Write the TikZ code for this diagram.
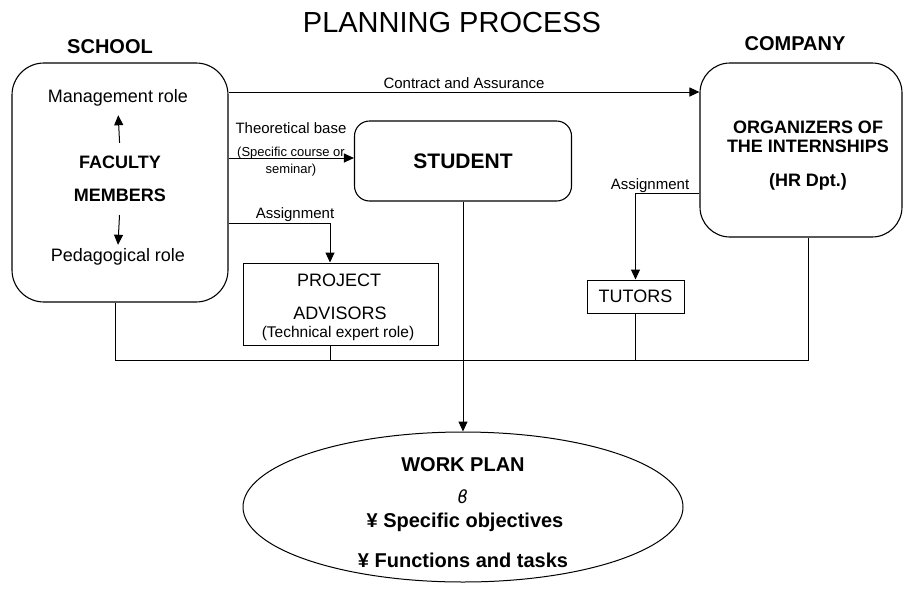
\documentclass[tikz,border=0pt]{standalone}
\usepackage{fontspec}
\setmainfont{Liberation Sans}
\newfontfamily\symfont{DejaVu Sans}
\usetikzlibrary{positioning,shapes.geometric,arrows.meta}
\newcommand{\fsz}[1]{\fontsize{#1}{#1}\selectfont}

\begin{document}
\begin{tikzpicture}[x=1pt,y=-1pt,line width=1pt,>={Triangle[length=10pt,width=9pt]},
    lbl/.style={inner sep=1pt},
    roundbox/.style={draw,line width=1.1pt,rounded corners=#1}]
    \useasboundingbox (0,0) rectangle (905,592);

    % titles
    \node (title) at (452,23) {\fsz{29}PLANNING PROCESS};
    \node (schoollbl) at (110,47) {\fsz{20}\bfseries SCHOOL};
    \node (companylbl) at (795,44) {\fsz{20}\bfseries COMPANY};

    % boxes
    \node[roundbox=32pt,minimum width=216pt,minimum height=239pt] (school) at (120,182.5) {};
    \node[roundbox=30pt,minimum width=202pt,minimum height=174pt] (company) at (801,150) {};
    \node[roundbox=15pt,minimum width=217pt,minimum height=80pt] (student) at (463,161) {\fsz{21}\bfseries STUDENT};
    \node[draw,minimum width=195pt,minimum height=82pt] (project) at (340.5,304) {};
    \node[draw,minimum width=97pt,minimum height=33pt] (tutors) at (635.5,296.5) {\fsz{18}TUTORS};
    \node[draw,ellipse,minimum width=440pt,minimum height=150pt] (plan) at (463,507) {};

    % school text
    \node (mgmt) at (118,98) {\fsz{18}Management role};
    \node (faculty) at (120,162) {\fsz{18}\bfseries FACULTY};
    \node (members) at (120,195) {\fsz{18}\bfseries MEMBERS};
    \node (pedag) at (118,257) {\fsz{18}Pedagogical role};
    \draw[->,shorten <=9pt,shorten >=5pt] (faculty.north) -- (mgmt.south);
    \draw[->,shorten <=10pt] (members.south) -- (pedag.north);

    % company text
    \node (orga) at (808,127) {\fsz{18}\bfseries ORGANIZERS OF};
    \node (orgb) at (808,146) {\fsz{18}\bfseries THE INTERNSHIPS};
    \node (hrdpt) at (808,182) {\fsz{18}\bfseries (HR Dpt.)};

    % project text
    \node (proja) at (339,280) {\fsz{18}PROJECT};
    \node (projb) at (340,313) {\fsz{18}ADVISORS};
    \node (projc) at (338,333) {\fsz{15.5}(Technical expert role)};

    % work plan text
    \node (plana) at (463,465) {\fsz{20}\bfseries WORK PLAN};
    \node (planb) at (463,497) {\fsz{18}\symfont\itshape ϐ};
    \node (planc) at (465,522) {\fsz{20}\bfseries ¥ Specific objectives};
    \node (pland) at (463,560) {\fsz{20}\bfseries ¥ Functions and tasks};

    % levels of the connectors
    \coordinate (contracty) at (0,92);
    \coordinate (theoy) at (0,158);
    \coordinate (asgschool) at (330,223);
    \coordinate (asgcompany) at (0,193);
    \coordinate (busl) at (115,360);
    \coordinate (busr) at (808,360);

    % connectors
    \draw[->] (school.east |- contracty) -- node[lbl,above=2pt] {\fsz{15}Contract and Assurance} (company.west |- contracty);
    \draw[->] (school.east |- theoy) -- (student.west |- theoy);
    \node (theo) at (291,128) {\fsz{15}Theoretical base};
    \node[lbl] (spec) at (291,153) {\fsz{13}(Specific course or};
    \node[lbl] (semi) at (291,170) {\fsz{13}seminar)};
    \draw[->] (school.east |- asgschool) -- (asgschool) -- (asgschool |- project.north);
    \node[lbl] (asglbla) at (295,215) {\fsz{15}Assignment};
    \draw[->] (company.west |- asgcompany) -| (tutors.north);
    \node[lbl] (asglblb) at (650,186) {\fsz{15}Assignment};
    \draw (busl |- school.south) -- (busl) -- (busr) -- (busr |- company.south);
    \draw (asgschool |- project.south) -- (asgschool |- busl);
    \draw (tutors.south) -- (tutors.south |- busl);
    \draw[->] (student.south) -- (plan.north);
\end{tikzpicture}
\end{document}
